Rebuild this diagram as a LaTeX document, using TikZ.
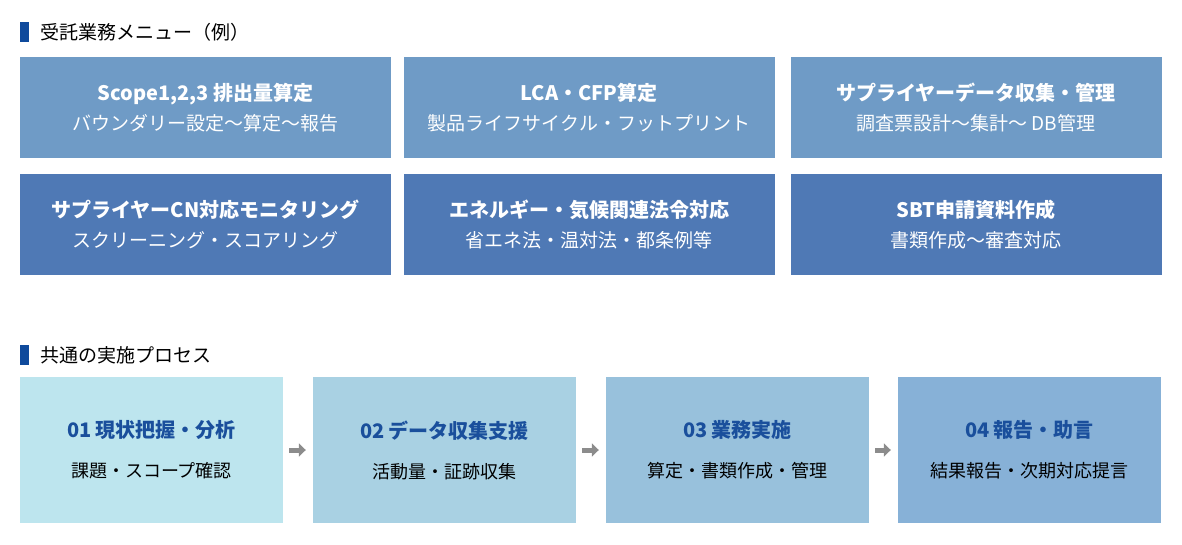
\documentclass[tikz,border=0pt]{standalone}
\usepackage{fontspec}
\setmainfont{Noto Sans CJK JP}
\usetikzlibrary{arrows.meta}
\definecolor{rowA}{HTML}{6F9BC6}
\definecolor{rowB}{HTML}{4F79B5}
\definecolor{pA}{HTML}{BDE5EE}
\definecolor{pB}{HTML}{A9D1E3}
\definecolor{pC}{HTML}{98C1DC}
\definecolor{pD}{HTML}{87B1D7}
\definecolor{navy}{HTML}{0F4A9C}
\definecolor{ttl}{HTML}{1A4F9C}
\tikzset{
  menubox/.style={minimum width=371pt,minimum height=101pt,inner sep=0pt,text=white,align=center,font=\fontsize{19}{30}\selectfont},
  procbox/.style={minimum width=263pt,minimum height=146pt,inner sep=0pt,align=center,font=\fontsize{18}{40}\selectfont},
  hdr/.style={anchor=west,font=\fontsize{19}{22}\selectfont,inner sep=0pt},
  flow/.style={draw=gray!90,line width=5pt,-{Triangle[length=7pt,width=13pt]}}
}
\newcommand{\mt}[1]{\textbf{\fontsize{20}{30}\selectfont #1}}
\newcommand{\pt}[1]{{\color{ttl}\textbf{\fontsize{20}{40}\selectfont #1}}}
\begin{document}
\begin{tikzpicture}[x=1pt,y=-1pt]
\useasboundingbox (0,0) rectangle (1182,544);
\fill[navy] (20,22) rectangle (29,42);
\node[hdr] (h1) at (40,32) {受託業務メニュー（例）};
\node[menubox,fill=rowA] (m1) at (205.5,107.5) {\mt{Scope1,2,3 排出量算定}\\バウンダリー設定〜算定〜報告};
\node[menubox,fill=rowA] (m2) at (589,107.5) {\mt{LCA・CFP算定}\\製品ライフサイクル・フットプリント};
\node[menubox,fill=rowA] (m3) at (976,107.5) {\mt{サプライヤーデータ収集・管理}\\調査票設計〜集計〜 DB管理};
\node[menubox,fill=rowB] (m4) at (205.5,224.5) {\mt{サプライヤーCN対応モニタリング}\\スクリーニング・スコアリング};
\node[menubox,fill=rowB] (m5) at (589,224.5) {\mt{エネルギー・気候関連法令対応}\\省エネ法・温対法・都条例等};
\node[menubox,fill=rowB] (m6) at (976,224.5) {\mt{SBT申請資料作成}\\書類作成〜審査対応};
\fill[navy] (20,345) rectangle (29,365);
\node[hdr] (h2) at (40,355) {共通の実施プロセス};
\node[procbox,fill=pA] (p1) at (151.5,450) {\pt{01 現状把握・分析}\\課題・スコープ確認};
\node[procbox,fill=pB] (p2) at (444.5,450) {\pt{02 データ収集支援}\\活動量・証跡収集};
\node[procbox,fill=pC] (p3) at (737.5,450) {\pt{03 業務実施}\\算定・書類作成・管理};
\node[procbox,fill=pD] (p4) at (1029.5,450) {\pt{04 報告・助言}\\結果報告・次期対応提言};
\draw[flow] ([xshift=6pt]p1.east) -- ([xshift=-7pt]p2.west);
\draw[flow] ([xshift=6pt]p2.east) -- ([xshift=-7pt]p3.west);
\draw[flow] ([xshift=6pt]p3.east) -- ([xshift=-7pt]p4.west);
\end{tikzpicture}
\end{document}
